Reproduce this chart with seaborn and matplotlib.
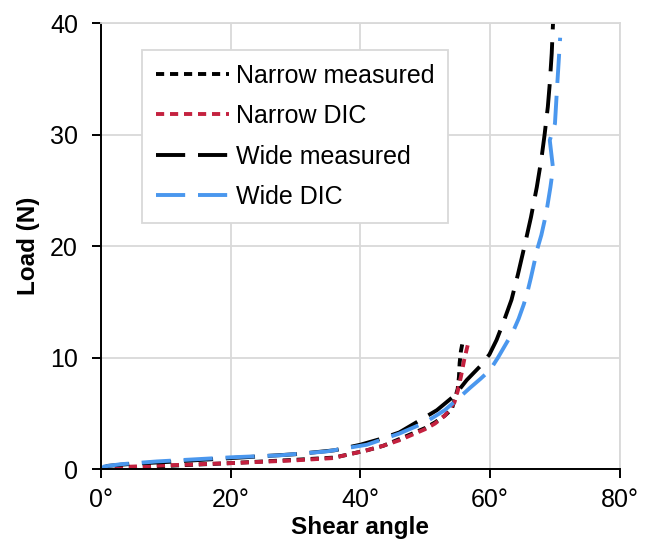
import matplotlib
matplotlib.use("Agg")
import matplotlib.pyplot as plt
import seaborn as sns
import pandas as pd

# ---- data ----
narrow_meas_x = [0, 5, 10, 20, 30, 36, 41, 43.5, 46, 48, 50, 51.5, 53, 54.1, 54.5, 55.0, 55.2, 55.3, 55.5, 55.8]
narrow_meas_y = [0, 0.15, 0.3, 0.55, 0.85, 1.05, 1.7, 2.1, 2.7, 3.2, 3.7, 4.2, 4.8, 5.4, 6.2, 7.2, 8.3, 9.5, 10.6, 11.5]

narrow_dic_x = [0, 3, 10, 20, 30, 35.7, 41, 43.5, 46, 48, 50, 51.5, 53, 54.5, 55, 55.5, 56, 56.7]
narrow_dic_y = [0, 0.2, 0.35, 0.55, 0.8, 1.0, 1.7, 2.1, 2.6, 3.1, 3.6, 4.1, 4.8, 6.0, 7.0, 8.3, 9.8, 11.5]

wide_meas_x = [0, 1, 5, 10, 20, 30, 36, 40, 43, 46, 49.2, 51.8, 54.5, 56.4, 58.4, 59.9, 61, 62, 63.3, 64.3, 65.3, 66.3,
               67.2, 67.9, 68.4, 68.9, 69.2, 69.5, 69.7]
wide_meas_y = [0, 0.3, 0.5, 0.65, 1.0, 1.35, 1.7, 2.2, 2.7, 3.3, 4.4, 5.3, 6.6, 8.0, 9.2, 10.3, 11.6, 13.1, 15.2, 17.5,
               20.0, 22.6, 25.3, 27.8, 30.0, 32.5, 34.6, 37.3, 40.0]

wide_dic_x = [0, 0.5, 3, 8.6, 20, 27.6, 34.8, 41, 46, 50, 53, 55, 56.9, 58.5, 60, 61.2, 62.5, 63.5, 64.4, 65.2, 65.8,
              66.3, 66.8, 67.3, 67.9, 68.4, 68.8, 69.3, 69.7, 69.2, 70.0, 70.3, 70.8]
wide_dic_y = [0, 0.25, 0.45, 0.7, 1.07, 1.25, 1.6, 2.2, 3.2, 4.2, 5.3, 6.3, 7.3, 8.1, 8.9, 10.0, 11.3, 12.3, 13.5, 14.8,
              16.0, 17.2, 18.5, 19.8, 21.0, 22.3, 23.5, 25.3, 27.0, 29.5, 31.0, 34.0, 38.7]

series_names = ["Narrow measured", "Narrow DIC", "Wide measured", "Wide DIC"]
x_ticks = [0, 20, 40, 60, 80]
x_tick_labels = ["0°", "20°", "40°", "60°", "80°"]
y_ticks = [0, 10, 20, 30, 40]

colors = ["#000000", "#C4213F", "#000000", "#4A97EE"]
dash_styles = [(2.1, 1.5), (2.1, 1.5), (7.5, 3.3), (7.5, 3.3)]

sns.set_theme(style="white")
plt.rcParams["font.family"] = ["Liberation Sans", "DejaVu Sans"]
plt.rcParams["text.color"] = "black"
plt.rcParams["axes.labelcolor"] = "black"

fig = plt.figure(figsize=(6.47, 5.40), dpi=100)
ax = fig.add_axes([0.156, 0.131, 0.802, 0.826])

data = [(narrow_meas_x, narrow_meas_y), (narrow_dic_x, narrow_dic_y),
        (wide_meas_x, wide_meas_y), (wide_dic_x, wide_dic_y)]

for name, (xs, ys), c, d in zip(series_names, data, colors, dash_styles):
    df = pd.DataFrame({"Shear angle": xs, "Load (N)": ys})
    sns.lineplot(data=df, x="Shear angle", y="Load (N)", sort=False, estimator=None,
                 color=c, linewidth=2.8, label=name, ax=ax)
    ax.lines[-1].set_dashes(d)
    ax.lines[-1].set_dash_capstyle("butt")

ax.set_xlim(0, 80)
ax.set_ylim(0, 40)
ax.set_xticks(x_ticks)
ax.set_xticklabels(x_tick_labels)
ax.set_yticks(y_ticks)
ax.grid(True, color="#D9D9D9", linewidth=1.3)
ax.set_axisbelow(True)

for s in ["left", "bottom"]:
    ax.spines[s].set_color("black")
    ax.spines[s].set_linewidth(1.4)
for s in ["right", "top"]:
    ax.spines[s].set_color("#D9D9D9")
    ax.spines[s].set_linewidth(1.3)

ax.tick_params(axis="both", which="major", labelsize=18, colors="black",
               direction="out", length=6.5, width=1.4)
ax.tick_params(axis="x", bottom=True, pad=7)
ax.tick_params(axis="y", left=True, pad=10)

ax.set_xlabel("Shear angle", fontsize=17.5, fontweight="bold", labelpad=3)
ax.set_ylabel("Load (N)", fontsize=17.5, fontweight="bold", labelpad=7)

leg = ax.legend(loc="upper left", bbox_to_anchor=(0.08, 0.94), borderaxespad=0,
                fontsize=18, frameon=True, fancybox=False, handlelength=2.9,
                handletextpad=0.3, labelspacing=0.66, borderpad=0.55)
leg.get_frame().set_edgecolor("#D9D9D9")
leg.get_frame().set_linewidth(1.3)
leg.get_frame().set_alpha(1)
for t in leg.get_texts():
    t.set_color("black")

fig.savefig("out.png", dpi=100)
